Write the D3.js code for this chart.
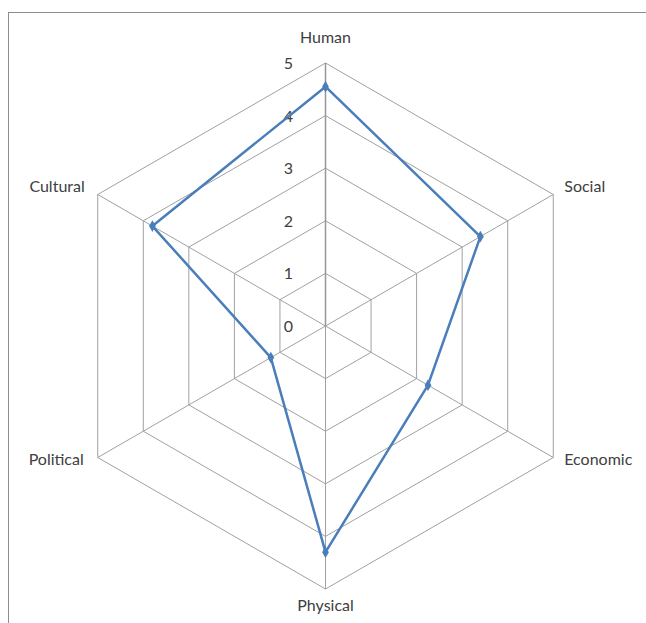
<!DOCTYPE html>
<html>
<head>
<meta charset="utf-8">
<script src="https://cdn.jsdelivr.net/npm/d3@7"></script>
<style>
  body { margin: 0; background: #fff; }
  text { font-family: Lato, "Open Sans", sans-serif; fill: #404040; }
</style>
</head>
<body>
<div id="chart"></div>
<script>
// Radar chart data
var categories = ["Human", "Social", "Economic", "Physical", "Political", "Cultural"];
var values = [4.55, 3.4, 2.25, 4.3, 1.2, 3.8];
var tickValues = [0, 1, 2, 3, 4, 5];

var svgWidth = 646;
var svgHeight = 623;

var center = {x: 325.5, y: 326};
var radius = 263;

var svg = d3.select("#chart")
  .append("svg")
  .attr("width", svgWidth)
  .attr("height", svgHeight);

// chart area border (runs off right and bottom)
svg.append("rect")
  .attr("x", 8.5)
  .attr("y", 12.5)
  .attr("width", 700)
  .attr("height", 700)
  .attr("fill", "none")
  .attr("stroke", "#8c8c8c")
  .attr("stroke-width", 1);

var rScale = d3.scaleLinear()
  .domain([0, 5])
  .range([0, radius]);

var angle = d3.scalePoint()
  .domain(categories)
  .range([0, 2 * Math.PI * (categories.length - 1) / categories.length]);

function px(cat, v) { return center.x + rScale(v) * Math.sin(angle(cat)); }
function py(cat, v) { return center.y - rScale(v) * Math.cos(angle(cat)); }

var g = svg.append("g");

// grid rings
var ring = d3.line().x(d => d[0]).y(d => d[1]).curve(d3.curveLinearClosed);
g.selectAll(".ring")
  .data(tickValues.slice(1))
  .enter()
  .append("path")
  .attr("d", t => ring(categories.map(c => [px(c, t), py(c, t)])))
  .attr("fill", "none")
  .attr("stroke", "#a0a0a0")
  .attr("stroke-width", 1);

// spokes
g.selectAll(".spoke")
  .data(categories)
  .enter()
  .append("line")
  .attr("x1", center.x)
  .attr("y1", center.y)
  .attr("x2", c => px(c, 5))
  .attr("y2", c => py(c, 5))
  .attr("stroke", (c, i) => i === 0 ? "#969696" : "#a0a0a0")
  .attr("stroke-width", (c, i) => i === 0 ? 1.5 : 1);

// tick labels along the top spoke
g.selectAll(".tick")
  .data(tickValues)
  .enter()
  .append("text")
  .attr("x", center.x - 37)
  .attr("y", t => py("Human", t) + 6)
  .attr("text-anchor", "middle")
  .attr("font-size", "16px")
  .text(t => t);

// category labels
var labelPos = {
  Human:    {dx: 0,   dy: -20, anchor: "middle"},
  Social:   {dx: 11,  dy: -3,  anchor: "start"},
  Economic: {dx: 11,  dy: 7,   anchor: "start"},
  Physical: {dx: 0,   dy: 22,  anchor: "middle"},
  Political:{dx: -14, dy: 7,   anchor: "end"},
  Cultural: {dx: -13, dy: -3,  anchor: "end"}
};
g.selectAll(".cat")
  .data(categories)
  .enter()
  .append("text")
  .attr("x", c => px(c, 5) + labelPos[c].dx)
  .attr("y", c => py(c, 5) + labelPos[c].dy)
  .attr("text-anchor", c => labelPos[c].anchor)
  .attr("font-size", "16px")
  .text(c => c);

// series
var pts = categories.map((c, i) => [px(c, values[i]), py(c, values[i])]);
g.append("path")
  .attr("d", ring(pts))
  .attr("fill", "none")
  .attr("stroke", "#4a7ebb")
  .attr("stroke-width", 2.5)
  .attr("stroke-linejoin", "round");

g.selectAll(".pt")
  .data(pts)
  .enter()
  .append("path")
  .attr("d", d3.symbol().type(d3.symbolDiamond).size(40))
  .attr("transform", d => `translate(${d[0]},${d[1]})`)
  .attr("fill", "#4a7ebb");
</script>
</body>
</html>
